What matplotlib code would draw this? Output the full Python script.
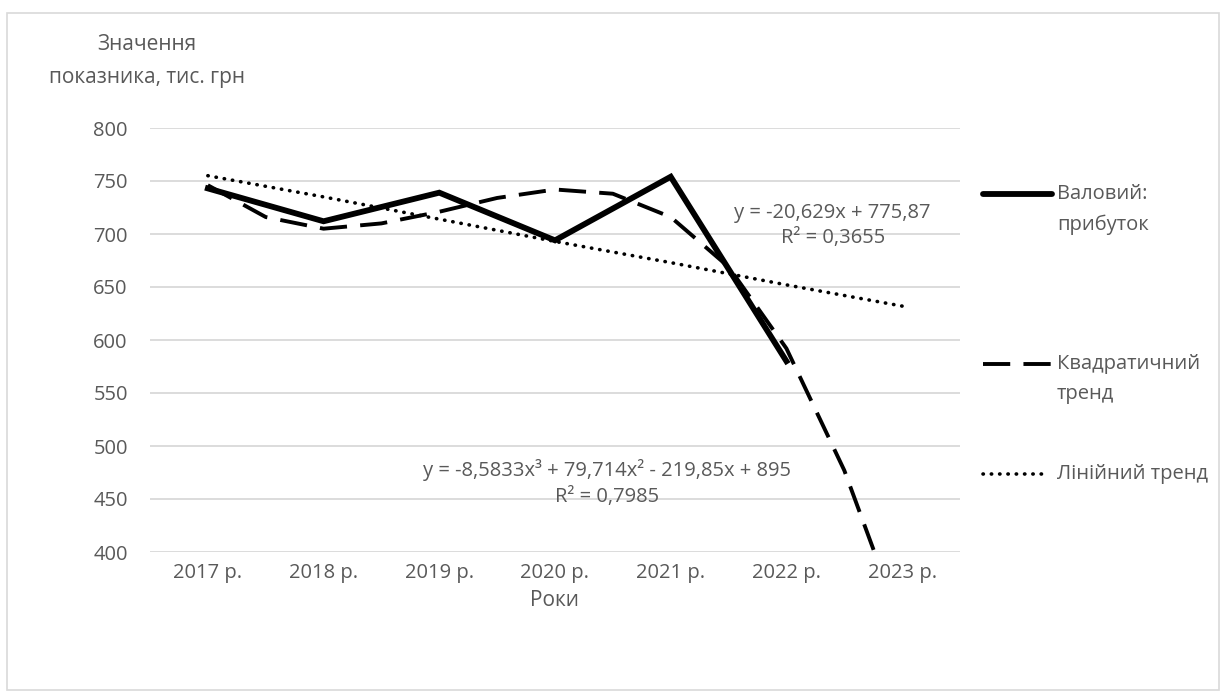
import matplotlib
matplotlib.use("Agg")
import matplotlib.pyplot as plt
from matplotlib.lines import Line2D
from matplotlib.patches import Rectangle

plt.rcParams['font.family'] = ['Open Sans', 'DejaVu Sans']

# дані
years = ['2017 р.', '2018 р.', '2019 р.', '2020 р.', '2021 р.', '2022 р.', '2023 р.']
profit = [743, 712, 739, 694, 754, 580]          # валовий прибуток, 2017-2022
lin_trend = [755, 735, 714, 693, 673, 652, 632]  # лінійний тренд
# поліноміальний тренд (позиція категорії, значення)
poly_x = [0, 0.5, 1, 1.5, 2, 2.5, 3, 3.5, 4, 4.5, 5, 5.5, 5.76]
poly_y = [746, 716, 705, 710, 721, 734, 742, 738, 716, 669, 592, 477, 400]

grey = '#595959'
fs = 14.5
solid = dict(lw=4.2, solid_joinstyle='miter')
dashed = dict(lw=2.8, dashes=(7, 3.4))
dotted = dict(lw=2.6, linestyle=(0, (0.1, 2.2)), dash_capstyle='round')

fig = plt.figure(figsize=(12.26, 6.95), dpi=100)
fig.add_artist(Rectangle((7/1226, 5/695), 1212/1226, 677/695, transform=fig.transFigure,
                         fill=False, edgecolor='#d9d9d9', linewidth=1.2))
ax = fig.add_axes([150/1226, 1-552/695, 810/1226, 424/695])

x = list(range(len(years)))
ax.plot(x[:len(profit)], profit, color='black', zorder=3, **solid)
ax.plot(poly_x, poly_y, color='black', zorder=2, **dashed)
ax.plot(x, lin_trend, color='black', zorder=2, **dotted)

ax.set_xlim(-0.5, 6.5)
ax.set_ylim(400, 800)
ax.set_yticks(range(400, 801, 50))
ax.set_xticks(x)
ax.set_xticklabels(years)
ax.grid(axis='y', color='#d9d9d9', lw=1.3)
ax.set_axisbelow(True)
for s in ax.spines.values():
    s.set_visible(False)
ax.tick_params(length=0, labelsize=fs, colors=grey, pad=8)
ax.tick_params(axis='y', pad=16)
ax.set_xlabel('Роки', fontsize=fs + 0.5, color=grey, labelpad=5)

fig.text(147/1226, 1-45/695, 'Значення', ha='center', va='center', fontsize=fs + 0.5, color=grey)
fig.text(147/1226, 1-78/695, 'показника, тис. грн', ha='center', va='center',
         fontsize=fs + 0.5, color=grey)

ax.text(5.4, 708, 'y = -20,629x + 775,87\nR² = 0,3655', ha='center', va='center',
        fontsize=fs, color=grey, linespacing=1.35)
ax.text(3.45, 465, 'y = -8,5833x³ + 79,714x² - 219,85x + 895\nR² = 0,7985', ha='center',
        va='center', fontsize=fs, color=grey, linespacing=1.35)

# легенда вручну
def leg_line(y, x2, style):
    fig.add_artist(Line2D([983/1226, x2/1226], [1-y/695, 1-y/695], transform=fig.transFigure,
                          color='black', **style))

def leg_text(y, label):
    fig.text(1057/1226, 1-y/695, label, ha='left', va='center', fontsize=fs, color=grey)

leg_line(194, 1052, dict(solid, solid_capstyle='round'))
leg_text(194, 'Валовий:')
leg_text(225, 'прибуток')
leg_line(364, 1052, dashed)
leg_text(364, 'Квадратичний')
leg_text(394, 'тренд')
leg_line(474, 1046, dotted)
leg_text(474, 'Лінійний тренд')

fig.savefig('out.png', dpi=100)
